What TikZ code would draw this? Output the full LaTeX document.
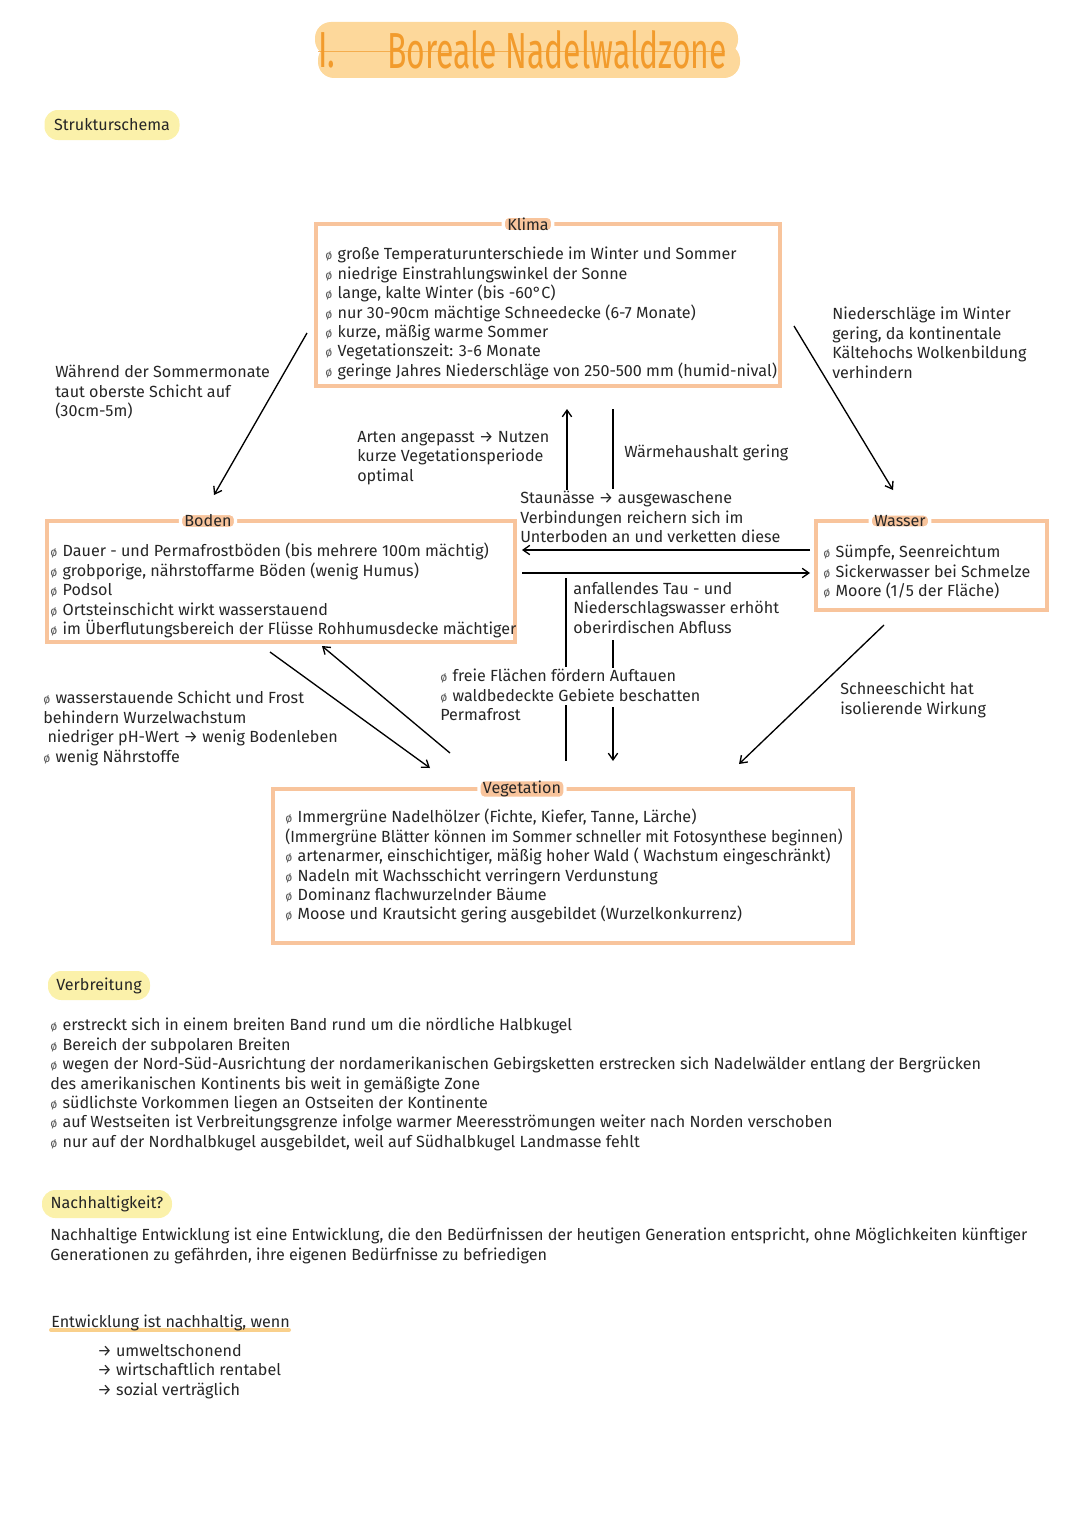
\documentclass[tikz,border=0pt]{standalone}
\usepackage{fontspec}
\setmainfont{Fira Sans}
\usetikzlibrary{arrows.meta,positioning}

\definecolor{peach}{HTML}{F8C49C}
\definecolor{titlebg}{HTML}{FDD89B}
\definecolor{titleink}{HTML}{F29B2C}
\definecolor{pillyellow}{HTML}{FBF1AA}
\definecolor{hilite}{HTML}{F9D08C}
\definecolor{ink}{HTML}{262626}

\newcommand{\bodyfont}{\fontsize{12.1pt}{14.55pt}\selectfont}
\newcommand{\bul}{{\fontsize{9pt}{9pt}\selectfont\color{black!65}ø}\hspace{4pt}}

\begin{document}
\begin{tikzpicture}[x=0.75pt, y=-0.75pt]
    \tikzset{
      box/.style={rectangle, draw=peach, line width=3pt, inner sep=0pt},
      tag/.style={fill=peach, draw=white, line width=2.5pt, rounded corners=4pt,
                  inner xsep=3pt, inner ysep=1pt, font=\bodyfont, text=ink},
      txt/.style={anchor=north west, inner sep=0pt, align=left,
                  font=\bodyfont, text=ink},
      pill/.style={fill=pillyellow, rounded corners=10pt, inner sep=0pt,
                   font=\bodyfont, text=ink},
      titletxt/.style={inner sep=0pt, text=titleink,
                       font=\fontsize{38pt}{38pt}\selectfont},
      arr/.style={-{Straight Barb[length=5pt,width=7pt]}, line width=1pt},
      link/.style={line width=1pt}
    }
    \useasboundingbox (0,0) rectangle (1080,1527);

    % Titel
    \fill[titlebg, rounded corners=12pt] (315,22) rectangle (738,56);
    \fill[titlebg, rounded corners=12pt] (318,44) rectangle (740,78);
    \draw[titleink, line width=0.5pt, opacity=0.7] (318,51) -- (725,51);
    \node[titletxt] (titlenum) at (327,50) {\scalebox{0.63}[1]{I.}};
    \node[titletxt] (titlemain) at (557,50)
      {\scalebox{0.63}[1]{Boreale Nadelwaldzone}};

    \node[pill, minimum width=101.25pt, minimum height=22.5pt]
      (schema) at (112,125) {Strukturschema};

    % Kaesten
    \node[box, minimum width=348pt, minimum height=121.5pt] (klima) at (548,305) {};
    \node[box, minimum width=351pt, minimum height=90.75pt] (boden) at (281,581.5) {};
    \node[box, minimum width=173.25pt, minimum height=66.75pt] (wasser) at (931.5,565.5) {};
    \node[box, minimum width=435pt, minimum height=115.5pt] (veget) at (563,866) {};

    \node[tag] (klimatag) at (528,224) {Klima};
    \node[tag] (bodentag) at (208,521) {Boden};
    \node[tag] (wassertag) at (900,521) {Wasser};
    \node[tag] (vegettag) at (522,789) {Vegetation};

    \node[txt] (klimatext) at (325,247)
      {\bul große Temperaturunterschiede im Winter und Sommer\\
       \bul niedrige Einstrahlungswinkel der Sonne\\
       \bul lange, kalte Winter (bis -60°C)\\
       \bul nur 30-90cm mächtige Schneedecke (6-7 Monate)\\
       \bul kurze, mäßig warme Sommer\\
       \bul Vegetationszeit: 3-6 Monate\\
       \bul geringe Jahres Niederschläge von 250-500 mm (humid-nival)};
    \node[txt] (bodentext) at (50,543)
      {\bul Dauer - und Permafrostböden (bis mehrere 100m mächtig)\\
       \bul grobporige, nährstoffarme Böden (wenig Humus)\\
       \bul Podsol\\
       \bul Ortsteinschicht wirkt wasserstauend\\
       \bul im Überflutungsbereich der Flüsse Rohhumusdecke mächtiger};
    \node[txt] (wassertext) at (823,545)
      {\bul Sümpfe, Seenreichtum\\
       \bul Sickerwasser bei Schmelze\\
       \bul Moore (1/5 der Fläche)};
    \node[txt] (vegettext) at (285,809)
      {\bul Immergrüne Nadelhölzer (Fichte, Kiefer, Tanne, Lärche)\\
       \scalebox{0.97}[1]{(Immergrüne Blätter können im Sommer schneller mit Fotosynthese beginnen)}\\
       \bul artenarmer, einschichtiger, mäßig hoher Wald ( Wachstum eingeschränkt)\\
       \bul Nadeln mit Wachsschicht verringern Verdunstung\\
       \bul Dominanz flachwurzelnder Bäume\\
       \bul Moose und Krautsicht gering ausgebildet (Wurzelkonkurrenz)};

    % Beschriftungen
    \node[txt] (sommer) at (55,365)
      {Während der Sommermonate\\taut oberste Schicht auf\\(30cm-5m)};
    \node[txt] (arten) at (357,431)
      {Arten angepasst → Nutzen\\kurze Vegetationsperiode\\optimal};
    \node[txt] (waerme) at (624,445) {Wärmehaushalt gering};
    \node[txt] (winter) at (832,307)
      {Niederschläge im Winter\\gering, da kontinentale\\Kältehochs Wolkenbildung\\verhindern};
    \node[txt] (stau) at (520,491)
      {Staunässe → ausgewaschene\\Verbindungen reichern sich im\\Unterboden an und verketten diese};
    \node[txt] (tau) at (573,582)
      {anfallendes Tau - und\\Niederschlagswasser erhöht\\oberirdischen Abfluss};
    \node[txt] (flaechen) at (440,669)
      {\bul freie Flächen fördern Auftauen\\
       \bul waldbedeckte Gebiete beschatten\\Permafrost};
    \node[txt] (wurzel) at (43,691)
      {\bul wasserstauende Schicht und Frost\\behindern Wurzelwachstum\\
       \ niedriger pH-Wert → wenig Bodenleben\\\bul wenig Nährstoffe};
    \node[txt] (schnee) at (840,682)
      {Schneeschicht hat\\isolierende Wirkung};

    % Pfeile
    \draw[arr] ([shift={(-7,28)}]klima.west) -- ([shift={(-67,-24)}]boden.north);
    \draw[arr] ([shift={(12,21)}]klima.east) -- ([shift={(-38.5,-29)}]wasser.north);
    \draw[arr] ([shift={(-47.5,13)}]wasser.south) -- ([shift={(176,-23)}]veget.north);
    \draw[arr] ([shift={(-11,8)}]boden.south) -- ([shift={(-133,-19)}]veget.north);
    \draw[arr] ([shift={(-113,-34)}]veget.north) -- ([shift={(41,2)}]boden.south);
    \draw[arr] ([shift={(-4,-15.5)}]wasser.west) -- ([shift={(5,-31.5)}]boden.east);
    \draw[arr] ([shift={(5,-8.5)}]boden.east) -- ([shift={(-4,7.5)}]wasser.west);

    % senkrechte Verbindungen
    \draw[arr] ([shift={(47,-1)}]stau.north west) -- ([shift={(19,21)}]klima.south);
    \draw[link] ([shift={(65,21)}]klima.south) -- ([shift={(93,-2)}]stau.north west);
    \draw[link] ([shift={(-7,-4)}]tau.north west) -- ([shift={(126,-2)}]flaechen.north west);
    \draw[link] ([shift={(40,58)}]tau.north west) -- ([shift={(173,-1)}]flaechen.north west);
    \draw[link] ([shift={(126,36)}]flaechen.north west) -- ([shift={(3,-26)}]veget.north);
    \draw[arr] ([shift={(173,38)}]flaechen.north west) -- ([shift={(50,-26)}]veget.north);

    % Verbreitung
    \node[pill, minimum width=76.5pt, minimum height=21.75pt]
      (verbreitung) at (99,985.5) {Verbreitung};
    \node[txt] (verbtext) at (50,1018)
      {\bul erstreckt sich in einem breiten Band rund um die nördliche Halbkugel\\
       \bul Bereich der subpolaren Breiten\\
       \bul wegen der Nord-Süd-Ausrichtung der nordamerikanischen Gebirgsketten erstrecken sich Nadelwälder entlang der Bergrücken\\
       des amerikanischen Kontinents bis weit in gemäßigte Zone\\
       \bul südlichste Vorkommen liegen an Ostseiten der Kontinente\\
       \bul auf Westseiten ist Verbreitungsgrenze infolge warmer Meeresströmungen weiter nach Norden verschoben\\
       \bul nur auf der Nordhalbkugel ausgebildet, weil auf Südhalbkugel Landmasse fehlt};

    % Nachhaltigkeit
    \node[pill, minimum width=97.5pt, minimum height=21pt]
      (nachhaltig) at (107,1204) {Nachhaltigkeit?};
    \node[txt] (definition) at (50,1228)
      {Nachhaltige Entwicklung ist eine Entwicklung, die den Bedürfnissen der heutigen Generation entspricht, ohne Möglichkeiten künftiger\\
       Generationen zu gefährden, ihre eigenen Bedürfnisse zu befriedigen};

    \draw[hilite, line width=3pt, line cap=round] (51,1330) -- (289,1330);
    \node[txt] (wenn) at (51,1315) {Entwicklung ist nachhaltig, wenn};
    \node[txt] (kriterien) at (97,1344)
      {→ umweltschonend\\→ wirtschaftlich rentabel\\→ sozial verträglich};
\end{tikzpicture}
\end{document}
